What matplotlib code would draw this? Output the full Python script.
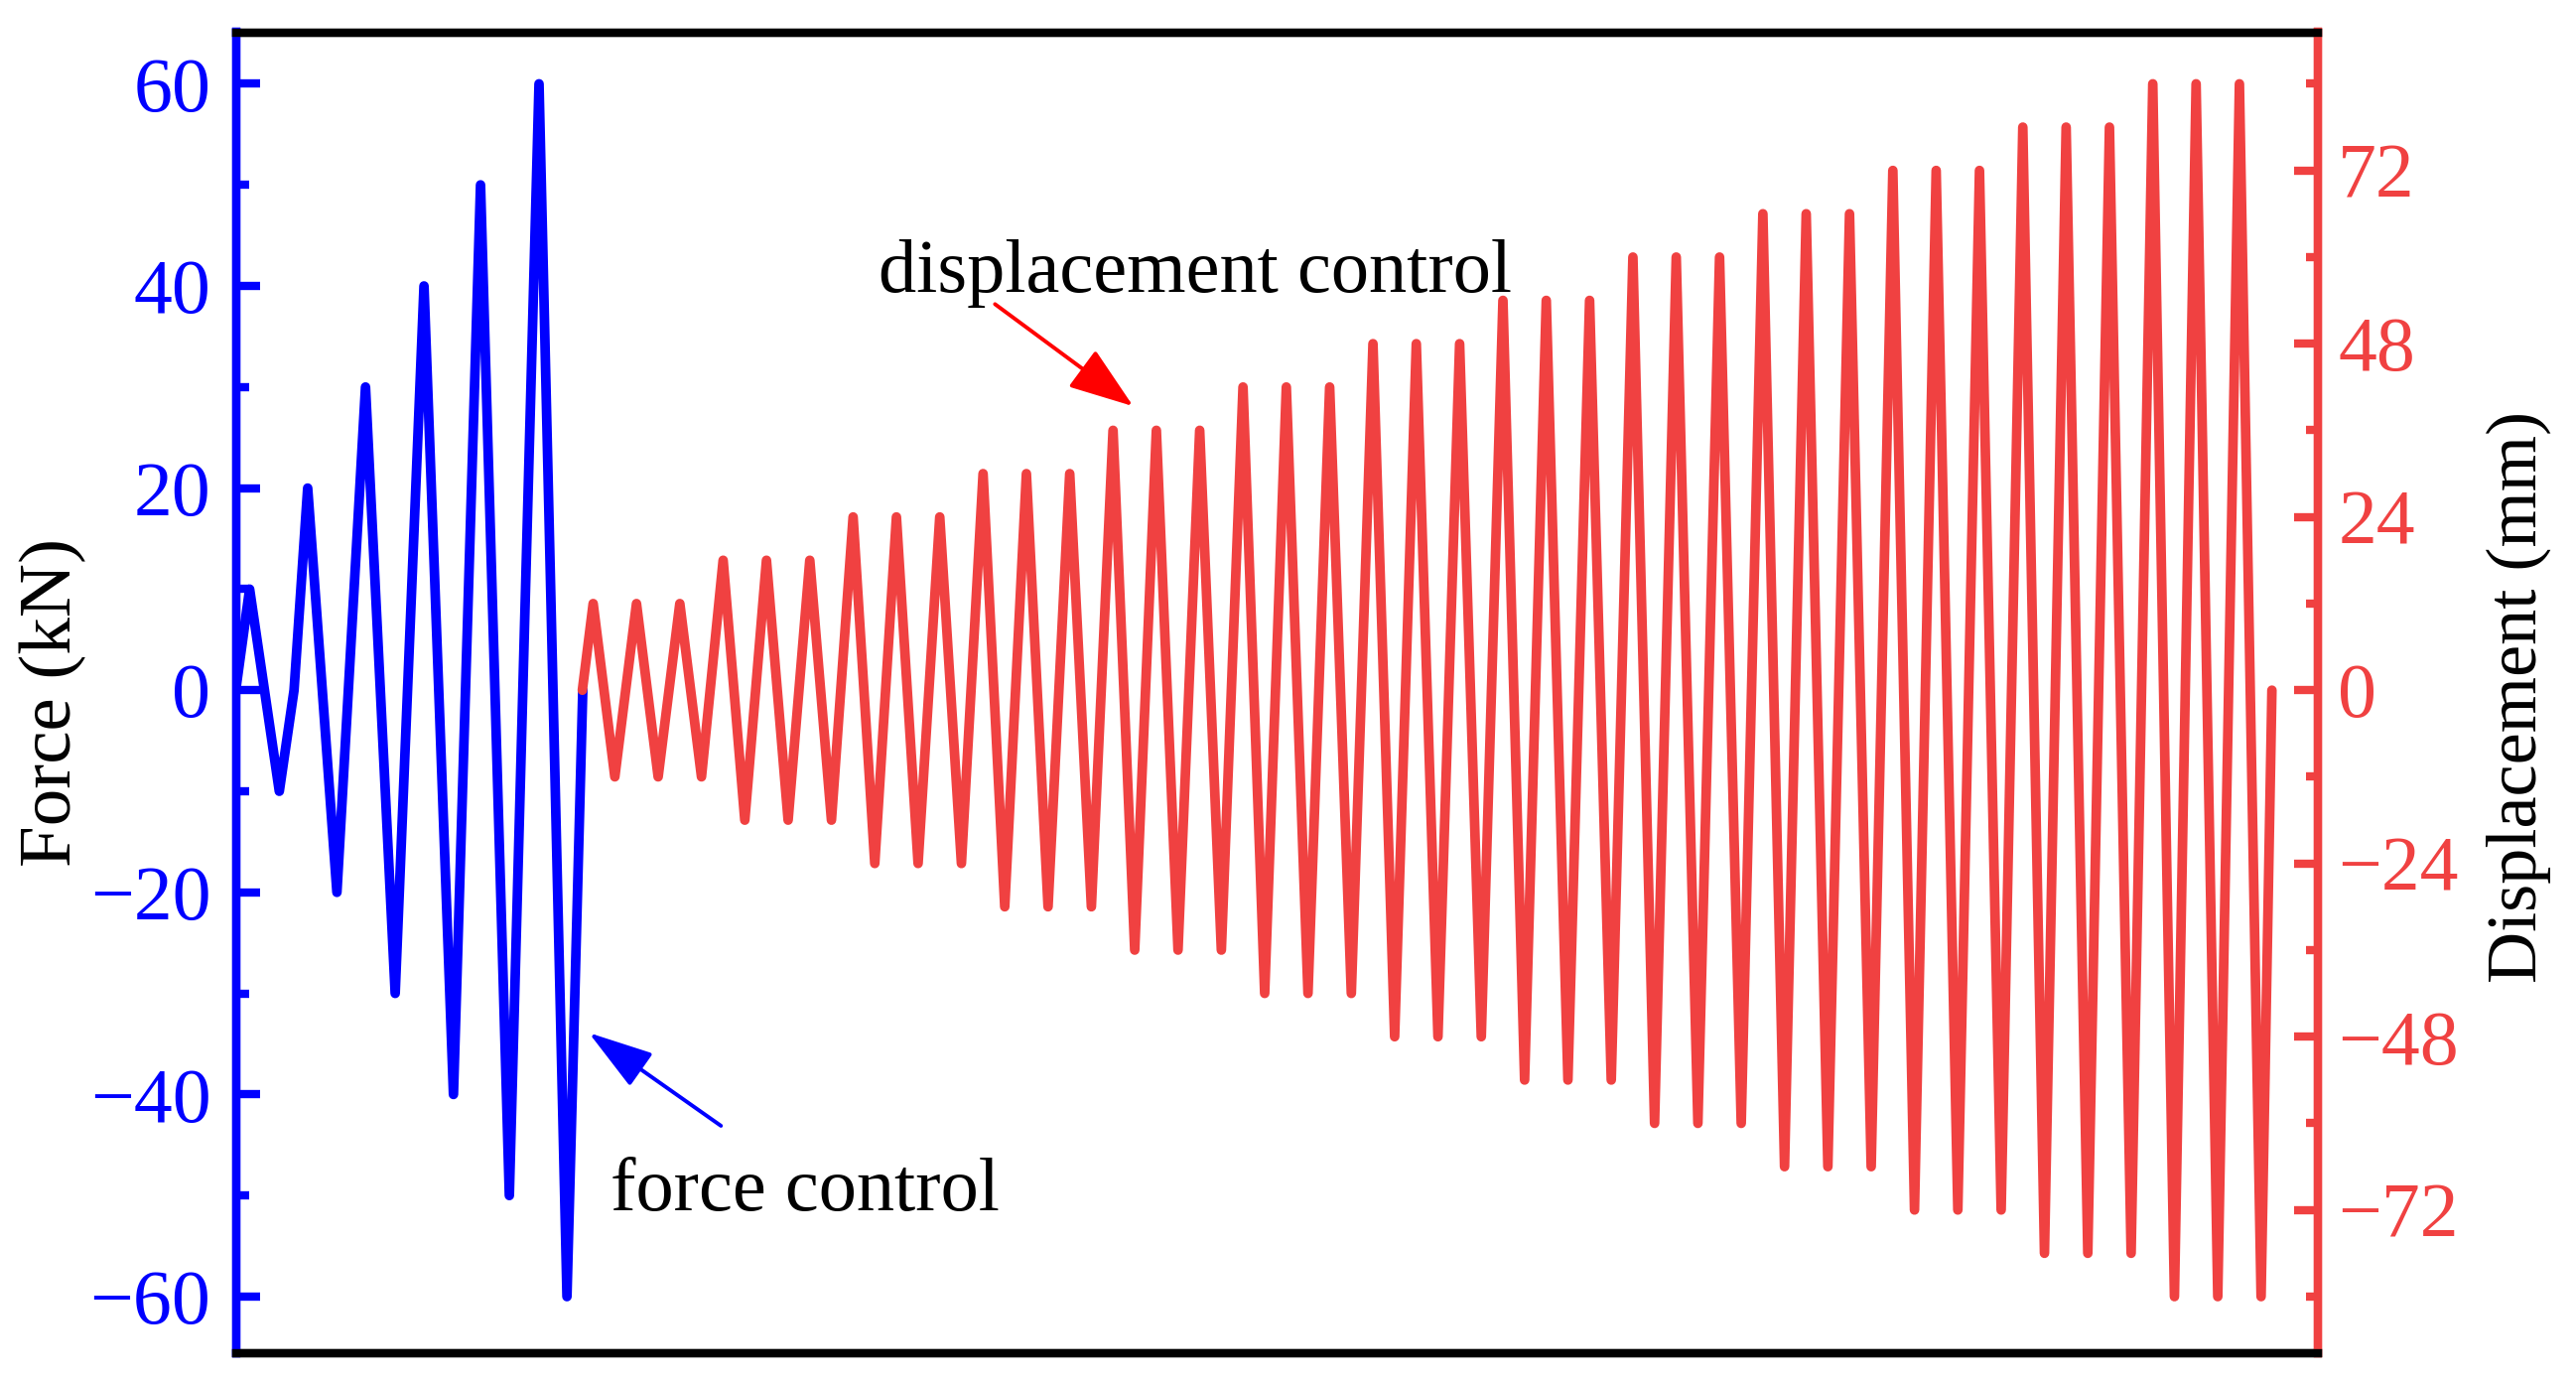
import matplotlib
matplotlib.use("Agg")
import matplotlib.pyplot as plt
from matplotlib.ticker import MultipleLocator

plt.rcParams['font.family'] = ['Liberation Serif', 'DejaVu Serif']

# force control stage (time in load steps, force in kN)
blue_t = [0, 0.64, 2.01, 2.69, 3.32, 4.67, 5.99, 7.36, 8.69, 10.05, 11.3, 12.63, 14.0, 15.29, 16.02]
blue_f = [0, 10, -10, 0, 20, -20, 30, -30, 40, -40, 50, -50, 60, -60, 0]

# displacement control stage: amplitude of every cycle (mm), 3 cycles per level
cycle_amp = [12, 12, 12, 18, 18, 18, 24, 24, 24, 30, 30, 30, 36, 36, 36,
             42, 42, 42, 48, 48, 48, 54, 54, 54, 60, 60, 60, 66, 66, 66,
             72, 72, 72, 78, 78, 78, 84, 84, 84]
red_start = 16.0
red_half = 1.0   # time of one half cycle

red_t = [red_start]
red_d = [0]
for i, a in enumerate(cycle_amp):
    red_t.append(red_start + red_half * (2 * i + 0.5))
    red_d.append(a)
    red_t.append(red_start + red_half * (2 * i + 1.5))
    red_d.append(-a)
red_t.append(red_t[-1] + red_half / 2)
red_d.append(0)

blue = '#0000FF'
red = '#F04141'

fig = plt.figure(figsize=(25.95, 13.92), dpi=100)
fig.subplots_adjust(left=237.5 / 2595, right=2334.5 / 2595, top=1 - 32.5 / 1392, bottom=1 - 1363 / 1392)
ax1 = fig.add_subplot(111)
ax2 = ax1.twinx()

ax1.plot(blue_t, blue_f, color=blue, lw=7.0, solid_joinstyle='round', solid_capstyle='round')
ax2.plot(red_t, red_d, color=red, lw=7.0, solid_joinstyle='round', solid_capstyle='round')

ax1.set_xlim(0, 96.1)
ax1.set_ylim(-65.6, 65.1)
ax2.set_ylim(-65.6 * 1.4, 65.1 * 1.4)

ax1.set_xticks([])
ax1.yaxis.set_major_locator(MultipleLocator(20))
ax1.yaxis.set_minor_locator(MultipleLocator(10))
ax2.yaxis.set_major_locator(MultipleLocator(24))
ax2.yaxis.set_minor_locator(MultipleLocator(12))

ax1.tick_params(axis='y', which='major', direction='in', length=17, width=6,
                color=blue, labelcolor=blue, labelsize=56, pad=18)
ax1.tick_params(axis='y', which='minor', direction='in', length=9, width=6, color=blue)
ax2.tick_params(axis='y', which='major', direction='in', length=17, width=6,
                color=red, labelcolor=red, labelsize=56, pad=15)
ax2.tick_params(axis='y', which='minor', direction='in', length=9, width=6, color=red)

for ax in (ax1, ax2):
    for s in ax.spines.values():
        s.set_linewidth(6)
    ax.spines['top'].set_color('black')
    ax.spines['bottom'].set_color('black')
    ax.spines['left'].set_color(blue)
    ax.spines['right'].set_color(red)

ax1.set_ylabel('Force (kN)', fontsize=54)
ax1.yaxis.set_label_coords(-0.088, 0.493)
ax1.yaxis.label.set_va('center')
ax2.set_ylabel('Displacement (mm)', fontsize=52)
ax2.yaxis.set_label_coords(1.0966, 0.497)
ax2.yaxis.label.set_va('center')
ax2.yaxis.label.set_rotation(90)

ax2.annotate('', xy=(16.3, -33.9), xytext=(22.4, -43.1), xycoords=ax1.transData,
             textcoords=ax1.transData,
             arrowprops=dict(arrowstyle='-|>,head_length=0.45,head_width=0.14', mutation_scale=90,
                             color=blue, lw=2.8, shrinkA=0, shrinkB=0))
ax2.text(17.31, -51.5, 'force control', transform=ax1.transData, fontsize=55,
         ha='left', va='baseline')
ax2.annotate('', xy=(41.43, 28.1), xytext=(35.05, 38.2), xycoords=ax1.transData,
             textcoords=ax1.transData,
             arrowprops=dict(arrowstyle='-|>,head_length=0.45,head_width=0.16', mutation_scale=90,
                             color='#FF0000', lw=2.8, shrinkA=0, shrinkB=0))
ax2.text(29.69, 39.4, 'displacement control', transform=ax1.transData, fontsize=55,
         ha='left', va='baseline')

fig.savefig('out.png', dpi=100)
